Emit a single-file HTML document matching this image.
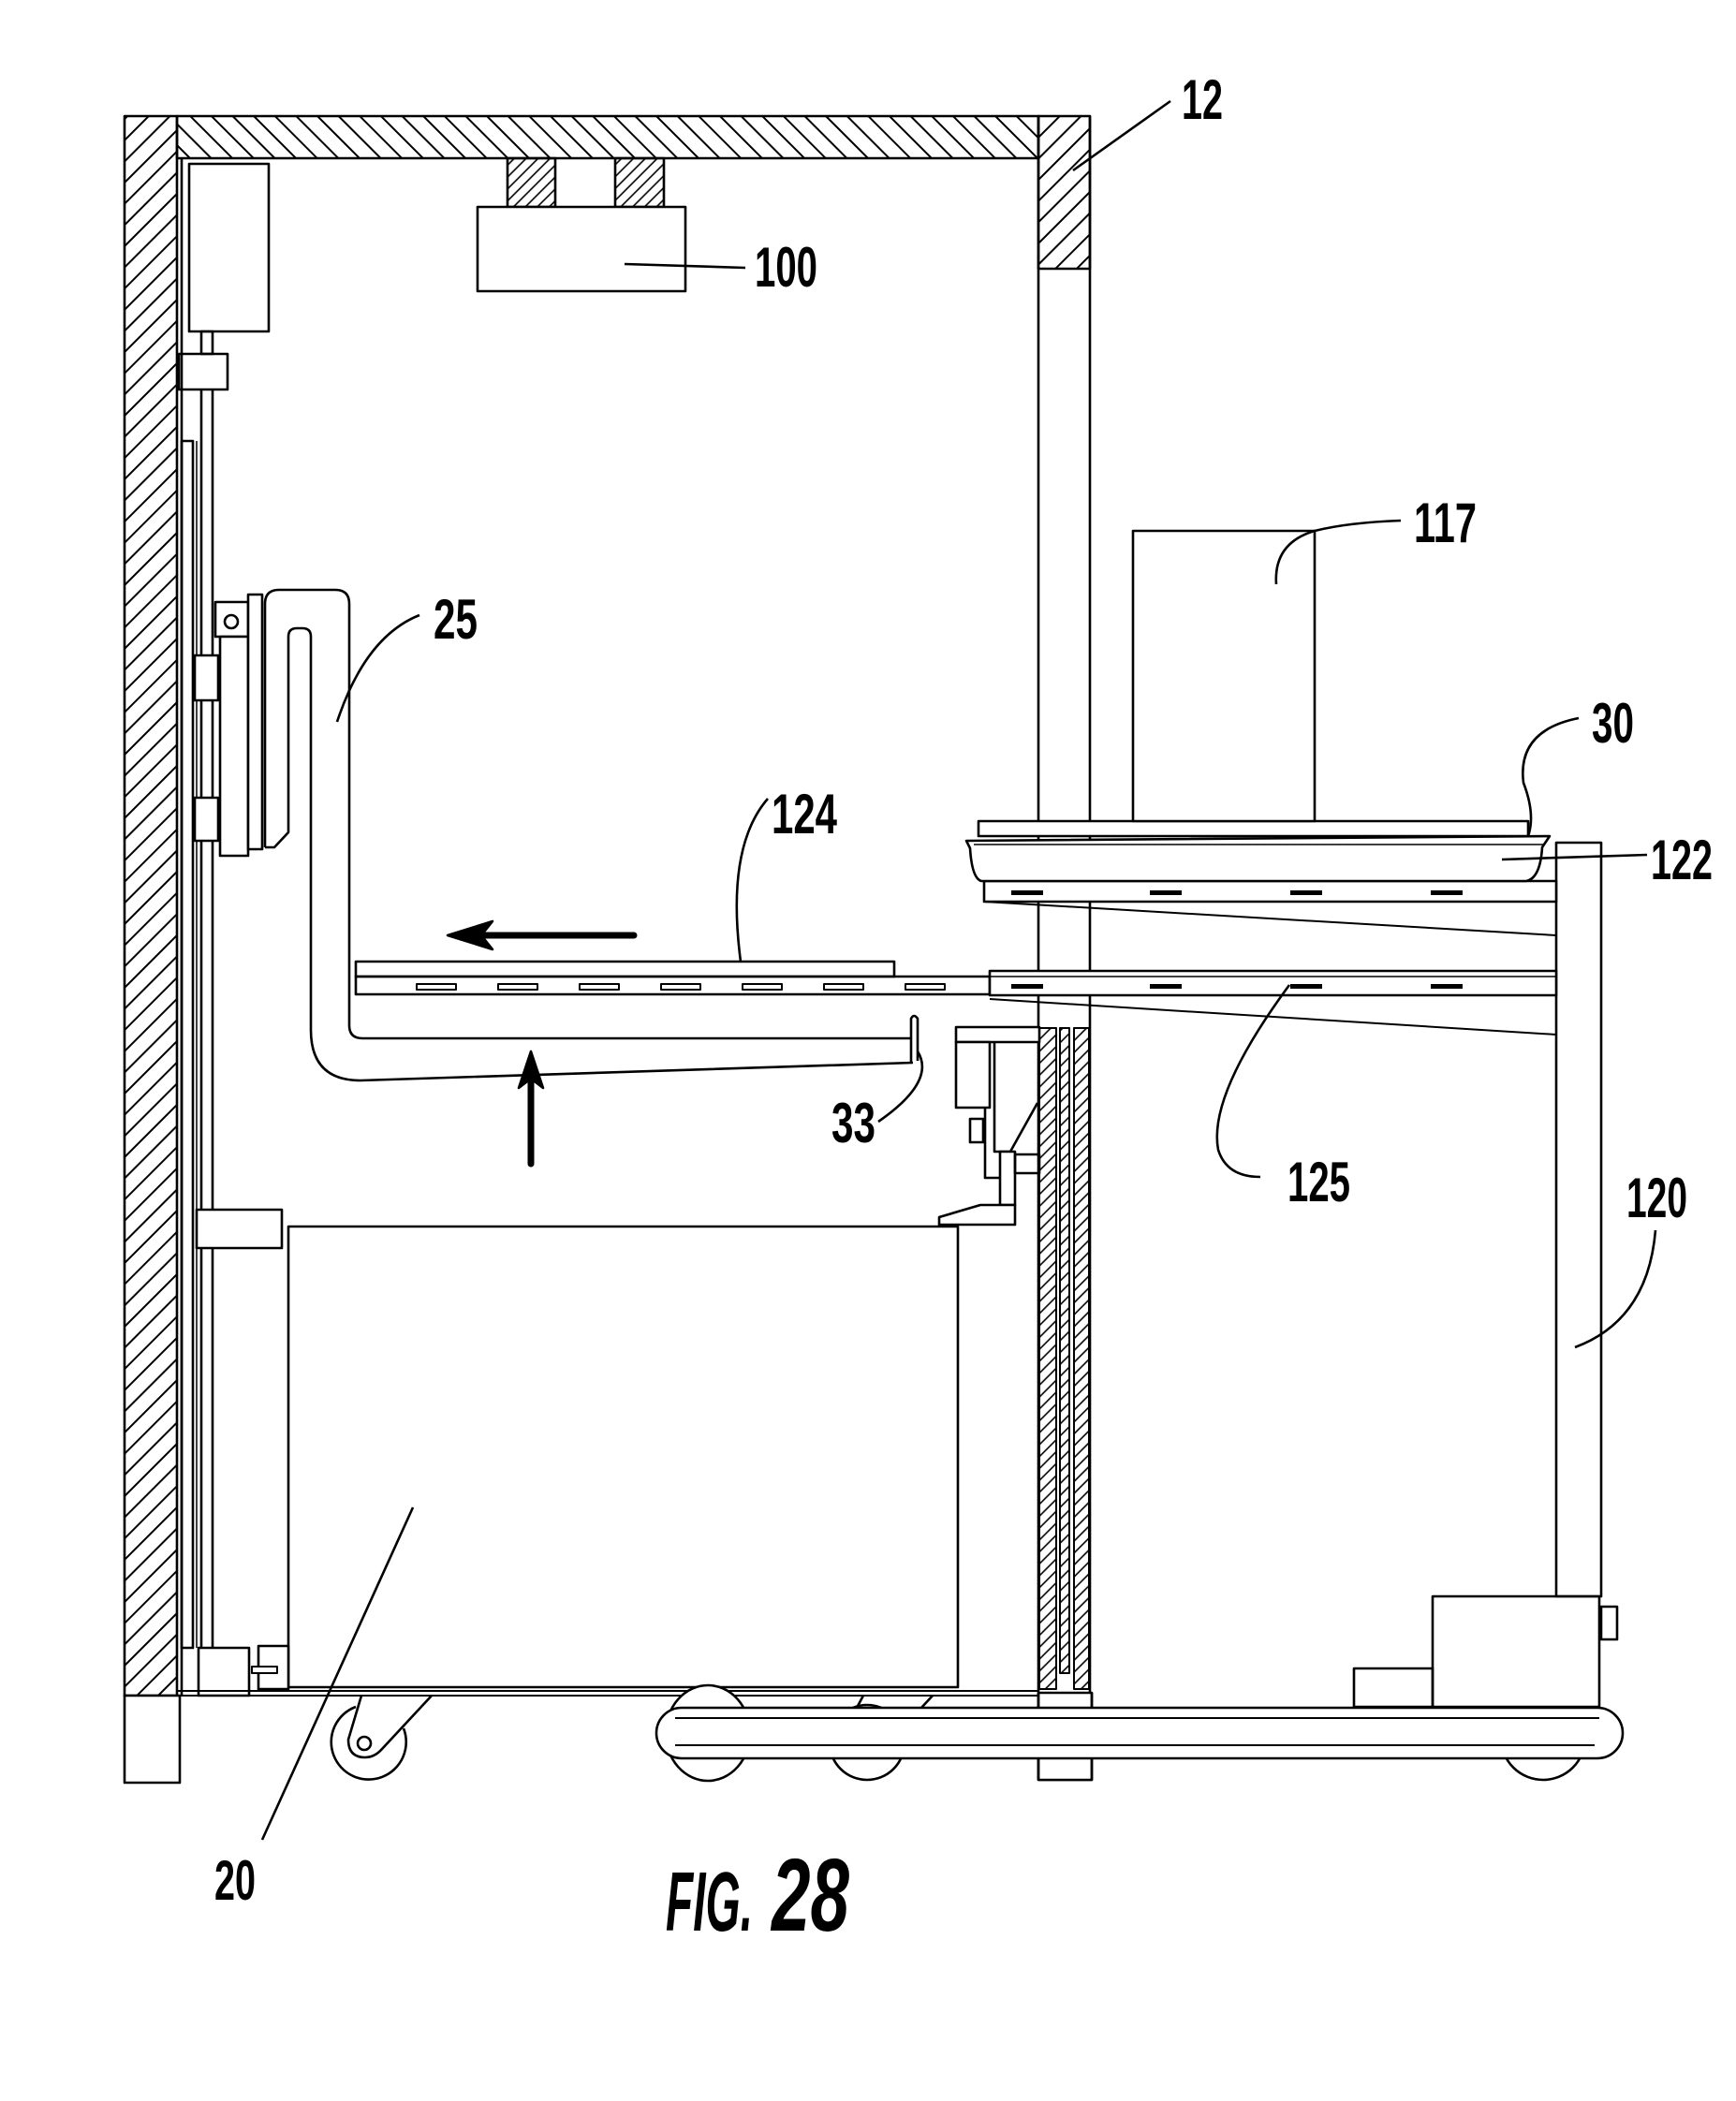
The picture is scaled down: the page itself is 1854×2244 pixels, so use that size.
<!DOCTYPE html>
<html><head><meta charset="utf-8"><style>
html,body{margin:0;padding:0;background:#fff;}
svg{display:block;}
text{font-family:"Liberation Sans",sans-serif;font-weight:bold;fill:#000;}
</style></head><body>
<svg width="1854" height="2244" viewBox="0 0 1854 2244" xmlns="http://www.w3.org/2000/svg">
<defs>
<pattern id="hs" width="16" height="16" patternUnits="userSpaceOnUse" patternTransform="rotate(45)">
<line x1="8" y1="0" x2="8" y2="16" stroke="#000" stroke-width="2"/></pattern>
<pattern id="hb" width="16" height="16" patternUnits="userSpaceOnUse" patternTransform="rotate(-45)">
<line x1="8" y1="0" x2="8" y2="16" stroke="#000" stroke-width="2"/></pattern>
<pattern id="hf" width="9" height="9" patternUnits="userSpaceOnUse" patternTransform="rotate(45)">
<line x1="4" y1="0" x2="4" y2="9" stroke="#000" stroke-width="1.6"/></pattern>
</defs>
<g fill="none" stroke="#000" stroke-width="2.6" stroke-linejoin="round">
<!-- left wall -->
<rect x="133" y="124" width="56" height="1687" fill="url(#hs)"/>
<rect x="133" y="1811" width="59" height="93" fill="#fff"/>
<line x1="194" y1="169" x2="194" y2="1811"/>
<!-- top wall -->
<rect x="189" y="124" width="920" height="45" fill="url(#hb)"/>
<!-- right wall -->
<rect x="1109" y="124" width="55" height="163" fill="url(#hs)"/>
<line x1="1109" y1="287" x2="1164" y2="287" stroke-width="1.5"/>
<line x1="1109" y1="124" x2="1109" y2="1901"/>
<line x1="1164" y1="124" x2="1164" y2="1901"/>
<line x1="1109" y1="1901" x2="1166" y2="1901"/>
<rect x="1110" y="1098" width="18" height="706" fill="url(#hf)" stroke-width="2"/>
<rect x="1147" y="1098" width="16" height="706" fill="url(#hf)" stroke-width="2"/>
<rect x="1132" y="1098" width="10" height="689" fill="url(#hf)" stroke-width="2"/>
<!-- top left box and rods -->
<rect x="202" y="175" width="85" height="179"/>
<rect x="215" y="354" width="12" height="24"/>
<rect x="191" y="378" width="52" height="38"/>
<line x1="215" y1="416" x2="215" y2="1760"/>
<line x1="227" y1="416" x2="227" y2="1760"/>
<rect x="194" y="471" width="12" height="1289"/>
<line x1="210" y1="471" x2="210" y2="1760" stroke-width="1.5"/>
<!-- hatched blocks and box 100 -->
<rect x="542" y="169" width="51" height="52" fill="url(#hf)"/>
<rect x="657" y="169" width="52" height="52" fill="url(#hf)"/>
<rect x="510" y="221" width="222" height="90" fill="#fff"/>
<line x1="667" y1="282" x2="796" y2="286"/>
<!-- carriage bracket -->
<rect x="208" y="700" width="25" height="48" fill="#fff"/>
<rect x="208" y="852" width="25" height="46" fill="#fff"/>
<rect x="230" y="643" width="35" height="37" fill="#fff"/>
<circle cx="247" cy="664" r="7"/>
<rect x="235" y="680" width="30" height="234" fill="#fff"/>
<rect x="265" y="635" width="15" height="272" fill="#fff"/>
<!-- arm 25 -->
<path d="M283 905 L283 645 Q283 630 298 630 L358 630 Q373 630 373 645 L373 1095 Q373 1109 387 1109 L973 1109"/>
<path d="M283 905 L293 905 L308 889 L308 680 Q308 671 317 671 L323 671 Q332 671 332 680 L332 1100 Q332 1154 385 1154 L975 1135"/>
<path d="M973 1135 L973 1088 Q976 1082 980 1088 L980 1133" />
<!-- tray 124 on rail -->
<rect x="380" y="1027" width="575" height="16"/>
<rect x="380" y="1043" width="677" height="19"/>
<g stroke-width="2">
<rect x="445" y="1051" width="42" height="6"/><rect x="532" y="1051" width="42" height="6"/>
<rect x="619" y="1051" width="42" height="6"/><rect x="706" y="1051" width="42" height="6"/>
<rect x="793" y="1051" width="42" height="6"/><rect x="880" y="1051" width="42" height="6"/>
<rect x="967" y="1051" width="42" height="6"/>
</g>
<!-- arrows -->
<line x1="500" y1="999" x2="677" y2="999" stroke-width="7" stroke-linecap="round"/>
<path d="M478 999 L526 984 L514 999 L526 1014 Z" fill="#000"/>
<line x1="567" y1="1150" x2="567" y2="1243" stroke-width="7" stroke-linecap="round"/>
<path d="M567 1123 L554 1162 L567 1152 L580 1162 Z" fill="#000"/>
<!-- mechanism near 33 -->
<rect x="1021" y="1097" width="89" height="16" fill="#fff"/>
<rect x="1021" y="1113" width="36" height="70" fill="#fff"/>
<path d="M1062 1113 L1062 1230 L1079 1230 L1108 1178"/>
<rect x="1036" y="1195" width="14" height="25"/>
<path d="M1052 1183 L1052 1258 L1068 1258"/>
<rect x="1068" y="1230" width="16" height="57" fill="#fff"/>
<rect x="1084" y="1233" width="26" height="20"/>
<path d="M1003 1300 L1047 1287 L1084 1287 L1084 1308 L1003 1308 Z" fill="#fff"/>
<!-- box 20 -->
<rect x="308" y="1310" width="715" height="492" fill="#fff"/>
<rect x="210" y="1292" width="91" height="41" fill="#fff"/>
<rect x="212" y="1760" width="54" height="51" fill="#fff"/>
<rect x="276" y="1758" width="32" height="46" fill="#fff"/>
<rect x="269" y="1780" width="27" height="7" fill="#fff" stroke-width="2"/>
<line x1="189" y1="1806" x2="1109" y2="1806" stroke-width="2"/>
<line x1="189" y1="1811" x2="1109" y2="1811" stroke-width="2"/>
<line x1="922" y1="1811" x2="915" y2="1824"/>
<line x1="996" y1="1811" x2="984" y2="1824"/>
<!-- caster -->
<path d="M380 1823 A40 40 0 1 0 431 1846"/>
<path d="M386 1811 L372 1858 Q372 1877 390 1877 Q400 1877 408 1868 L461 1811"/>
<circle cx="389" cy="1862" r="7"/>
<!-- right cart: wheels and base -->
<ellipse cx="756" cy="1851" rx="45" ry="51" fill="#fff"/>
<circle cx="926" cy="1861" r="40" fill="#fff"/>
<circle cx="1648" cy="1856" r="45" fill="#fff"/>
<rect x="1109" y="1808" width="57" height="93" fill="#fff"/>
<line x1="1109" y1="1808" x2="1109" y2="1901"/><line x1="1166" y1="1808" x2="1166" y2="1901"/>
<rect x="701" y="1824" width="1032" height="54" rx="27" ry="27" fill="#fff"/>
<line x1="721" y1="1835" x2="1708" y2="1835" stroke-width="2"/>
<line x1="721" y1="1864" x2="1703" y2="1864" stroke-width="2"/>
<rect x="1530" y="1705" width="178" height="118" fill="#fff"/>
<rect x="1446" y="1782" width="84" height="41"/>
<rect x="1710" y="1716" width="17" height="35"/>
<!-- post 120 -->
<rect x="1662" y="900" width="48" height="805"/>
<!-- shelves -->
<rect x="1051" y="941" width="611" height="22" fill="#fff"/>
<line x1="1051" y1="963" x2="1662" y2="999" stroke-width="2"/>
<rect x="1057" y="1037" width="605" height="26" fill="#fff"/>
<line x1="1057" y1="1043" x2="1662" y2="1043" stroke-width="1.5"/>
<line x1="1057" y1="1067" x2="1662" y2="1105" stroke-width="2"/>
<g fill="#000" stroke="none">
<rect x="1080" y="951" width="34" height="5"/><rect x="1228" y="951" width="34" height="5"/>
<rect x="1378" y="951" width="34" height="5"/><rect x="1528" y="951" width="34" height="5"/>
<rect x="1080" y="1051" width="34" height="5"/><rect x="1228" y="1051" width="34" height="5"/>
<rect x="1378" y="1051" width="34" height="5"/><rect x="1528" y="1051" width="34" height="5"/>
</g>
<!-- container 122 and plate 30 -->
<path d="M1032 898 L1655 893 L1647 905 Q1645 938 1630 941 L1048 941 Q1038 938 1036 906 Z" fill="#fff"/>
<line x1="1040" y1="902" x2="1650" y2="902" stroke-width="1.5"/>
<rect x="1045" y="877" width="587" height="16" fill="#fff"/>
<rect x="1210" y="567" width="194" height="310" fill="#fff"/>
<!-- leaders -->
<line x1="1146" y1="182" x2="1250" y2="108"/>
<path d="M1363 624 Q1360 580 1404 567 Q1440 558 1496 556"/>
<path d="M1632 893 Q1640 870 1627 836 Q1620 780 1686 767"/>
<line x1="1604" y1="918" x2="1759" y2="913"/>
<path d="M1377 1052 Q1290 1170 1301 1228 Q1310 1257 1346 1257"/>
<path d="M1682 1439 Q1760 1410 1768 1314"/>
<path d="M791 1027 Q775 905 820 853"/>
<path d="M360 771 Q390 680 448 657"/>
<path d="M980 1123 Q1000 1155 938 1198"/>
<line x1="441" y1="1610" x2="280" y2="1965"/>
</g>
<!-- labels -->
<g font-size="60">
<text x="1262" y="127" textLength="44" lengthAdjust="spacingAndGlyphs">12</text>
<text x="806" y="306" textLength="67" lengthAdjust="spacingAndGlyphs">100</text>
<text x="1510" y="579" textLength="67" lengthAdjust="spacingAndGlyphs">117</text>
<text x="1700" y="793" textLength="45" lengthAdjust="spacingAndGlyphs">30</text>
<text x="1763" y="939" textLength="66" lengthAdjust="spacingAndGlyphs">122</text>
<text x="463" y="682" textLength="47" lengthAdjust="spacingAndGlyphs">25</text>
<text x="824" y="890" textLength="70" lengthAdjust="spacingAndGlyphs">124</text>
<text x="888" y="1220" textLength="47" lengthAdjust="spacingAndGlyphs">33</text>
<text x="1375" y="1283" textLength="67" lengthAdjust="spacingAndGlyphs">125</text>
<text x="1737" y="1300" textLength="65" lengthAdjust="spacingAndGlyphs">120</text>
<text x="229" y="2029" textLength="44" lengthAdjust="spacingAndGlyphs">20</text>
</g>
<text x="711" y="2062" font-size="90" font-style="italic" textLength="93" lengthAdjust="spacingAndGlyphs">FIG.</text>
<text x="824" y="2062" font-size="110" font-style="italic" textLength="83" lengthAdjust="spacingAndGlyphs">28</text>
</svg>
</body></html>
